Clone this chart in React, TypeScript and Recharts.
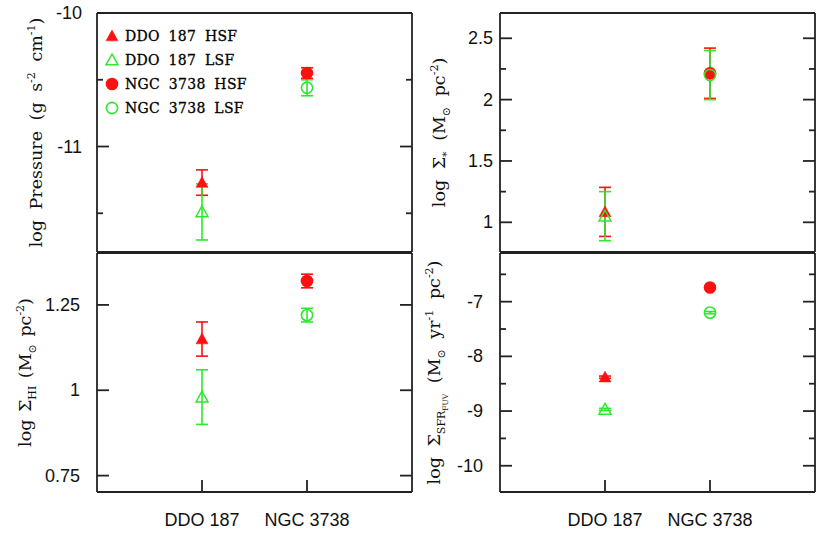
import { ErrorBar, Legend, Scatter, ScatterChart, XAxis, YAxis } from "recharts";

const RED = "#ff1010";
const GREEN = "#2ee82e";
const INK = "#222222";
const PAGE_W = 830;
const PAGE_H = 554;
const AX = 1; // thickness reserved by each axis

const CATEGORIES = ["DDO 187", "NGC 3738"];
const CATEGORY_X = [1, 2];
const X_DOMAIN: [number, number] = [0, 3];

const SERIES_NAMES = ["DDO 187 HSF", "DDO 187 LSF", "NGC 3738 HSF", "NGC 3738 LSF"];
const SERIES_CATEGORY = [0, 0, 1, 1];
const SERIES_COLORS = [RED, GREEN, RED, GREEN];
const SERIES_MARKERS = ["triangle", "triangle", "circle", "circle"];
const SERIES_FILLED = [true, false, true, false];

// log Pressure (g s^-2 cm^-1)
const PRESSURE = [-11.27, -11.49, -10.45, -10.56];
const PRESSURE_ERR = [0.095, 0.21, 0.04, 0.06];
const PRESSURE_MAJOR = [-11, -10];
const PRESSURE_MINOR = [-11.5, -10.5];

// log Sigma_* (Msun pc^-2)
const SIGMA_STAR = [1.085, 1.05, 2.215, 2.2];
const SIGMA_STAR_ERR = [0.2, 0.2, 0.205, 0.2];
const SIGMA_STAR_MAJOR = [1, 1.5, 2, 2.5];
const SIGMA_STAR_MINOR = [1.25, 1.75, 2.25];

// log Sigma_HI (Msun pc^-2)
const SIGMA_HI = [1.15, 0.98, 1.32, 1.22];
const SIGMA_HI_ERR = [0.05, 0.08, 0.02, 0.02];
const SIGMA_HI_MAJOR = [0.75, 1, 1.25];
const SIGMA_HI_MINOR: number[] = [];

// log Sigma_SFR,FUV (Msun yr^-1 pc^-2)
const SIGMA_SFR = [-8.38, -8.97, -6.74, -7.2];
const SIGMA_SFR_ERR = [0.02, 0.02, 0.02, 0.02];
const SIGMA_SFR_MAJOR = [-10, -9, -8, -7];
const SIGMA_SFR_MINOR = [-9.5, -8.5, -7.5, -6.5];

type Part = [string, "" | "sub" | "sup" | "subsub"];

const PRESSURE_TITLE: Part[] = [["log Pressure (g s", ""], ["-2", "sup"], [" cm", ""], ["-1", "sup"], [")", ""]];
const SIGMA_STAR_TITLE: Part[] = [["log Σ", ""], ["*", "sub"], [" (M", ""], ["⊙", "sub"], [" pc", ""], ["-2", "sup"], [")", ""]];
const SIGMA_HI_TITLE: Part[] = [["log Σ", ""], ["HI", "sub"], [" (M", ""], ["⊙", "sub"], [" pc", ""], ["-2", "sup"], [")", ""]];
const SIGMA_SFR_TITLE: Part[] = [
  ["log Σ", ""], ["SFR", "sub"], ["FUV", "subsub"], [" (M", ""], ["⊙", "sub"],
  [" yr", ""], ["-1", "sup"], [" pc", ""], ["-2", "sup"], [")", ""],
];

const SHIFT = { "": 0, sup: -7, sub: 5, subsub: 8 };
const SIZE = { "": 17.5, sup: 11, sub: 11, subsub: 7.5 };

function Marker({ cx, cy, i }: { cx: number; cy: number; i: number }) {
  const color = SERIES_COLORS[i];
  const filled = SERIES_FILLED[i];
  if (SERIES_MARKERS[i] === "circle") {
    const r = filled ? 6.3 : 5.6;
    return (
      <circle cx={cx} cy={cy} r={r} fill={filled ? color : "none"} stroke={color} strokeWidth={filled ? 0 : 1.6} />
    );
  }
  const h = 6;
  const pts = `${cx},${cy - h} ${cx - h},${cy + h * 0.8} ${cx + h},${cy + h * 0.8}`;
  return <polygon points={pts} fill={filled ? color : "none"} stroke={color} strokeWidth={filled ? 0.5 : 1.5} />;
}

function LegendBox() {
  return (
    <div>
      {SERIES_NAMES.map((name, i) => (
        <div key={name} style={{ display: "flex", alignItems: "center", height: 24 }}>
          <svg width={18} height={18} style={{ marginRight: 4 }}>
            <Marker cx={9} cy={9} i={i} />
          </svg>
          <span
            style={{
              fontFamily: "DejaVu Serif",
              fontSize: 14,
              color: "#000",
              whiteSpace: "pre",
              wordSpacing: 4,
              letterSpacing: 0.3,
              WebkitTextStroke: "0.3px #000",
            }}
          >
            {name}
          </span>
        </div>
      ))}
    </div>
  );
}

function AxisTitle({ parts, x, y, spacing }: { parts: Part[]; x: number; y: number; spacing: number }) {
  let cur = 0;
  return (
    <text
      transform={`translate(${x},${y}) rotate(-90)`}
      textAnchor="middle"
      fontFamily="DejaVu Serif"
      fill="#111"
      wordSpacing={spacing}
      style={{ whiteSpace: "pre" }}
    >
      {parts.map(([t, kind], k) => {
        const dy = SHIFT[kind] - cur;
        cur = SHIFT[kind];
        return (
          <tspan key={k} dy={dy} fontSize={SIZE[kind]}>
            {t}
          </tspan>
        );
      })}
    </text>
  );
}

type PanelProps = {
  plot: { left: number; top: number; right: number; bottom: number };
  domain: [number, number];
  majors: number[];
  minors: number[];
  values: number[];
  errors: number[];
  title: Part[];
  titleX: number;
  titleSpacing: number;
  labelGap: number;
  bottomLabels: boolean;
  legend?: boolean;
};

function Panel(p: PanelProps) {
  const { plot } = p;
  const yTicks = [...p.minors, ...p.majors];
  const midY = (plot.top + plot.bottom) / 2;
  return (
    <div style={{ position: "absolute", left: 0, top: 0 }}>
      <ScatterChart
        width={PAGE_W}
        height={PAGE_H}
        margin={{
          top: plot.top - AX,
          left: plot.left - AX,
          right: PAGE_W - plot.right - AX,
          bottom: PAGE_H - plot.bottom - AX,
        }}
      >
        <XAxis
          xAxisId="b"
          type="number"
          dataKey="x"
          domain={X_DOMAIN}
          ticks={CATEGORY_X}
          allowDataOverflow
          height={AX}
          tickSize={0}
          tickMargin={0}
          tickLine={false}
          interval={0}
          axisLine={{ stroke: INK, strokeWidth: 1.8 }}
          tick={(t: any) =>
            p.bottomLabels ? (
              <g>
                <line x1={t.x} x2={t.x} y1={t.y} y2={t.y - 12} stroke={INK} strokeWidth={1.8} />
                <text x={t.x} y={t.y + 28} textAnchor="middle" dominantBaseline="central" fontFamily="Liberation Sans" fontSize={18} fill="#111">
                  {CATEGORIES[CATEGORY_X.indexOf(t.payload.value)]}
                </text>
              </g>
            ) : (
              <g />
            )
          }
        />
        <XAxis
          xAxisId="t"
          orientation="top"
          type="number"
          domain={X_DOMAIN}
          ticks={CATEGORY_X}
          allowDataOverflow
          height={AX}
          tickSize={0}
          tickMargin={0}
          tickLine={false}
          interval={0}
          axisLine={{ stroke: INK, strokeWidth: 1.8 }}
          tick={(t: any) => <line x1={t.x} x2={t.x} y1={t.y} y2={t.y + 12} stroke={INK} strokeWidth={1.8} />}
        />
        <YAxis
          yAxisId="l"
          type="number"
          domain={p.domain}
          ticks={yTicks}
          allowDataOverflow
          width={AX}
          tickSize={0}
          tickMargin={0}
          tickLine={false}
          interval={0}
          axisLine={{ stroke: INK, strokeWidth: 1.8 }}
          tick={(t: any) => {
            const major = p.majors.includes(t.payload.value);
            return (
              <g>
                <line x1={t.x} x2={t.x + (major ? 12 : 6)} y1={t.y} y2={t.y} stroke={INK} strokeWidth={1.8} />
                {major && (
                  <text x={t.x - p.labelGap} y={t.y} textAnchor="end" dominantBaseline="central" fontFamily="Liberation Sans" fontSize={18} fill="#111">
                    {String(t.payload.value)}
                  </text>
                )}
              </g>
            );
          }}
          label={{
            content: () => <AxisTitle parts={p.title} x={p.titleX} y={midY} spacing={p.titleSpacing} />,
          }}
        />
        <YAxis
          yAxisId="r"
          orientation="right"
          type="number"
          domain={p.domain}
          ticks={yTicks}
          allowDataOverflow
          width={AX}
          tickSize={0}
          tickMargin={0}
          tickLine={false}
          interval={0}
          axisLine={{ stroke: INK, strokeWidth: 1.8 }}
          tick={(t: any) => {
            const major = p.majors.includes(t.payload.value);
            return <line x1={t.x} x2={t.x - (major ? 12 : 6)} y1={t.y} y2={t.y} stroke={INK} strokeWidth={1.8} />;
          }}
        />
        {SERIES_NAMES.map((name, i) => (
          <Scatter
            key={name}
            name={name}
            xAxisId="b"
            yAxisId="l"
            data={[{ x: CATEGORY_X[SERIES_CATEGORY[i]], y: p.values[i], err: p.errors[i] }]}
            dataKey="y"
            fill={SERIES_COLORS[i]}
            isAnimationActive={false}
            shape={(s: any) => <Marker cx={s.cx} cy={s.cy} i={i} />}
          >
            <ErrorBar dataKey="err" direction="y" width={6} stroke={SERIES_COLORS[i]} strokeWidth={1.6} isAnimationActive={false} />
          </Scatter>
        ))}
        {p.legend && (
          <Legend
            layout="vertical"
            align="center"
            verticalAlign="middle"
            wrapperStyle={{ left: 103, top: 24, width: 200 }}
            content={() => <LegendBox />}
          />
        )}
      </ScatterChart>
    </div>
  );
}

export default function App() {
  return (
    <div style={{ position: "absolute", left: 0, top: 0, width: PAGE_W, height: PAGE_H, background: "#fff" }}>
      <Panel
        plot={{ left: 97, top: 13, right: 412, bottom: 252 }}
        domain={[-11.79, -10]}
        majors={PRESSURE_MAJOR}
        minors={PRESSURE_MINOR}
        values={PRESSURE}
        errors={PRESSURE_ERR}
        title={PRESSURE_TITLE}
        titleX={42}
        titleSpacing={5}
        labelGap={15}
        bottomLabels={false}
        legend
      />
      <Panel
        plot={{ left: 500, top: 13, right: 815, bottom: 252 }}
        domain={[0.758, 2.706]}
        majors={SIGMA_STAR_MAJOR}
        minors={SIGMA_STAR_MINOR}
        values={SIGMA_STAR}
        errors={SIGMA_STAR_ERR}
        title={SIGMA_STAR_TITLE}
        titleX={445}
        titleSpacing={5}
        labelGap={7}
        bottomLabels={false}
      />
      <Panel
        plot={{ left: 97, top: 253, right: 412, bottom: 492 }}
        domain={[0.702, 1.402]}
        majors={SIGMA_HI_MAJOR}
        minors={SIGMA_HI_MINOR}
        values={SIGMA_HI}
        errors={SIGMA_HI_ERR}
        title={SIGMA_HI_TITLE}
        titleX={31}
        titleSpacing={2}
        labelGap={17}
        bottomLabels
      />
      <Panel
        plot={{ left: 500, top: 253, right: 815, bottom: 492 }}
        domain={[-10.48, -6.11]}
        majors={SIGMA_SFR_MAJOR}
        minors={SIGMA_SFR_MINOR}
        values={SIGMA_SFR}
        errors={SIGMA_SFR_ERR}
        title={SIGMA_SFR_TITLE}
        titleX={440}
        titleSpacing={5}
        labelGap={17}
        bottomLabels
      />
    </div>
  );
}
